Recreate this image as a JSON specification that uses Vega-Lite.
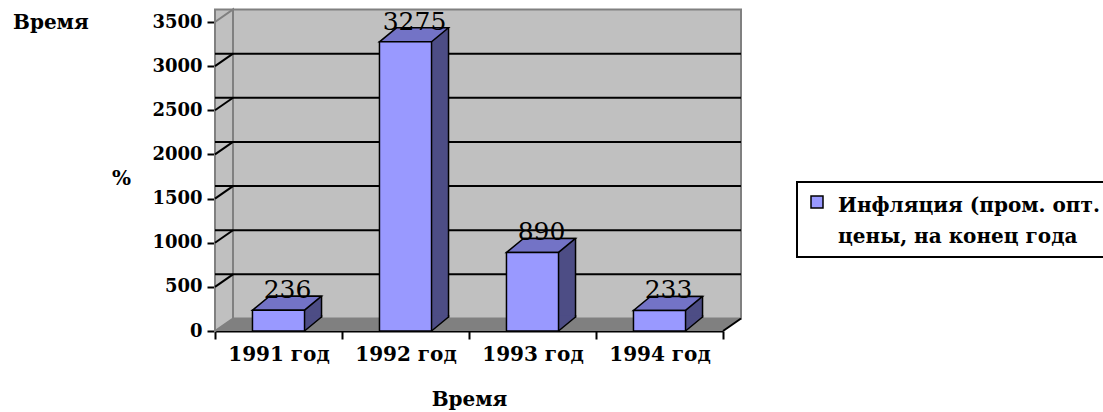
{
  "$schema": "https://vega.github.io/schema/vega-lite/v6.json",
  "width": 508,
  "height": 309,
  "autosize": {"type": "none"},
  "padding": {"left": 215, "top": 22, "right": 380, "bottom": 81},
  "background": "white",
  "config": {
    "view": {"stroke": null},
    "font": "DejaVu Serif",
    "axisY": {
      "domainColor": "black", "domainWidth": 2, "tickColor": "black", "tickWidth": 2, "tickSize": 8,
      "labelFont": "DejaVu Serif", "labelFontSize": 18, "labelFontWeight": "bold", "labelColor": "black", "labelPadding": 5,
      "grid": false, "zindex": 1, "format": "d",
      "titleFont": "DejaVu Serif", "titleFontSize": 20, "titleFontWeight": "bold", "titleColor": "black",
      "titleAngle": 0, "titleX": -94, "titleY": 156, "titleAlign": "center", "titleBaseline": "middle"
    },
    "axisX": {
      "domainColor": "black", "domainWidth": 2, "tickColor": "black", "tickWidth": 2, "tickSize": 8,
      "tickBand": "extent", "labelAngle": 0,
      "labelFont": "DejaVu Serif", "labelFontSize": 20, "labelFontWeight": "bold", "labelColor": "black", "labelPadding": 5,
      "grid": false, "zindex": 1,
      "titleFont": "DejaVu Serif", "titleFontSize": 20, "titleFontWeight": "bold", "titleColor": "black",
      "titleY": 74, "titleBaseline": "alphabetic"
    }
  },
  "title": {
    "text": "Время", "anchor": "start", "frame": "group", "orient": "top",
    "font": "DejaVu Serif", "fontSize": 20, "fontWeight": "bold", "color": "black",
    "baseline": "alphabetic", "offset": 0, "dx": -202, "dy": 43
  },
  "datasets": {
    "inflation": [
      {"year": "1991 год", "value": 236, "series": "Инфляция (пром. опт. цены, на конец года"},
      {"year": "1992 год", "value": 3275, "series": "Инфляция (пром. опт. цены, на конец года"},
      {"year": "1993 год", "value": 890, "series": "Инфляция (пром. опт. цены, на конец года"},
      {"year": "1994 год", "value": 233, "series": "Инфляция (пром. опт. цены, на конец года"}
    ],
    "grid": [{"v": 500}, {"v": 1000}, {"v": 1500}, {"v": 2000}, {"v": 2500}, {"v": 3000}],
    "frame": [{"part": "wall"}]
  },
  "layer": [
    {
      "data": {"name": "frame"},
      "mark": {"type": "rect", "fill": "#c0c0c0", "stroke": "#808080", "strokeWidth": 2, "xOffset": 18, "x2Offset": 18, "yOffset": -12.5, "y2Offset": -12.5},
      "encoding": {"y": {"datum": 3500, "type": "quantitative"}, "y2": {"datum": 0}}
    },
    {
      "data": {"name": "frame"},
      "mark": {"type": "point", "shape": "M-63.5,0L-63.5,-309L-45.5,-321.5L-45.5,-12.5Z", "size": 4, "filled": true, "fill": "#c0c0c0", "stroke": "#808080", "strokeWidth": 2, "opacity": 1},
      "encoding": {"x": {"datum": "1991 год", "type": "nominal"}, "y": {"datum": 0, "type": "quantitative"}}
    },
    {
      "data": {"name": "frame"},
      "mark": {"type": "point", "shape": "M-63.5,0L444.5,0L462.5,-12.5L-45.5,-12.5Z", "size": 4, "filled": true, "fill": "#808080", "strokeWidth": 0, "opacity": 1},
      "encoding": {"x": {"datum": "1991 год", "type": "nominal"}, "y": {"datum": 0, "type": "quantitative"}}
    },
    {
      "data": {"name": "frame"},
      "mark": {"type": "point", "shape": "M444.5,0L462.5,-12.5", "size": 4, "filled": false, "stroke": "black", "strokeWidth": 2, "opacity": 1},
      "encoding": {"x": {"datum": "1991 год", "type": "nominal"}, "y": {"datum": 0, "type": "quantitative"}}
    },
    {
      "data": {"name": "grid"},
      "mark": {"type": "rule", "color": "black", "strokeWidth": 2, "xOffset": 18, "x2Offset": 18, "yOffset": -12.5},
      "encoding": {"y": {"field": "v", "type": "quantitative", "title": "%"}}
    },
    {
      "data": {"name": "grid"},
      "mark": {"type": "point", "shape": "M-63.5,0L-45.5,-12.5", "size": 4, "filled": false, "stroke": "black", "strokeWidth": 2, "opacity": 1},
      "encoding": {"x": {"datum": "1991 год", "type": "nominal"}, "y": {"field": "v", "type": "quantitative", "title": "%"}}
    },
    {
      "data": {"name": "inflation"},
      "mark": {"type": "bar", "width": {"band": 0.41}, "xOffset": 17, "x2Offset": 17, "yOffset": -14, "y2Offset": -14, "fill": "#4d4d85", "stroke": "black", "strokeWidth": 1.5},
      "encoding": {"x": {"field": "year", "type": "nominal", "title": "Время"}, "y": {"field": "value", "type": "quantitative", "title": "%"}}
    },
    {
      "data": {"name": "inflation"},
      "mark": {"type": "point", "shape": "M26,0L43,-14L43,-15.5L26,-15.5Z", "size": 4, "filled": true, "fill": "#4d4d85", "strokeWidth": 0, "opacity": 1},
      "encoding": {"x": {"field": "year", "type": "nominal", "title": "Время"}, "y": {"datum": 0, "type": "quantitative"}}
    },
    {
      "data": {"name": "inflation"},
      "mark": {"type": "point", "shape": "M26,0L43,-14L43,-16", "size": 4, "filled": false, "stroke": "black", "strokeWidth": 1.5, "opacity": 1},
      "encoding": {"x": {"field": "year", "type": "nominal", "title": "Время"}, "y": {"datum": 0, "type": "quantitative"}}
    },
    {
      "data": {"name": "inflation"},
      "mark": {"type": "point", "shape": "M-26,0L26,0L43,-14L-9,-14Z", "size": 4, "filled": true, "fill": "#7373c6", "stroke": "black", "strokeWidth": 1.5, "opacity": 1},
      "encoding": {"x": {"field": "year", "type": "nominal", "title": "Время"}, "y": {"field": "value", "type": "quantitative", "title": "%"}}
    },
    {
      "data": {"name": "inflation"},
      "mark": {"type": "bar", "width": {"band": 0.41}, "stroke": "black", "strokeWidth": 1.5},
      "encoding": {
        "x": {"field": "year", "type": "nominal", "title": "Время", "scale": {"paddingInner": 0, "paddingOuter": 0}},
        "y": {"field": "value", "type": "quantitative", "title": "%", "scale": {"domain": [0, 3500], "nice": false},
              "axis": {"values": [0, 500, 1000, 1500, 2000, 2500, 3000, 3500], "format": "d"}},
        "color": {
          "field": "series", "type": "nominal", "scale": {"range": ["#9999ff"]},
          "legend": {
            "title": null, "orient": "none", "legendX": 582, "legendY": 160,
            "strokeColor": "black", "padding": 10, "fillColor": "white",
            "symbolType": "square", "symbolSize": 144, "symbolStrokeColor": "black", "symbolStrokeWidth": 1.5, "symbolOpacity": 1,
            "labelFont": "DejaVu Serif", "labelFontSize": 20, "labelFontWeight": "bold", "labelColor": "black",
            "labelLimit": 400, "labelOffset": 11, "labelBaseline": "top",
            "labelExpr": "['Инфляция (пром. опт.', 'цены, на конец года']",
            "encode": {
              "legend": {"update": {"strokeWidth": {"value": 2}}},
              "labels": {"update": {"lineHeight": {"value": 31}, "dy": {"value": -6}}}
            }
          }
        }
      }
    },
    {
      "data": {"name": "inflation"},
      "mark": {"type": "text", "font": "DejaVu Serif", "fontSize": 25, "color": "black", "dx": 9, "dy": -12, "baseline": "alphabetic", "align": "center"},
      "encoding": {
        "x": {"field": "year", "type": "nominal", "title": "Время"},
        "y": {"field": "value", "type": "quantitative", "title": "%"},
        "text": {"field": "value", "type": "quantitative"}
      }
    }
  ]
}
